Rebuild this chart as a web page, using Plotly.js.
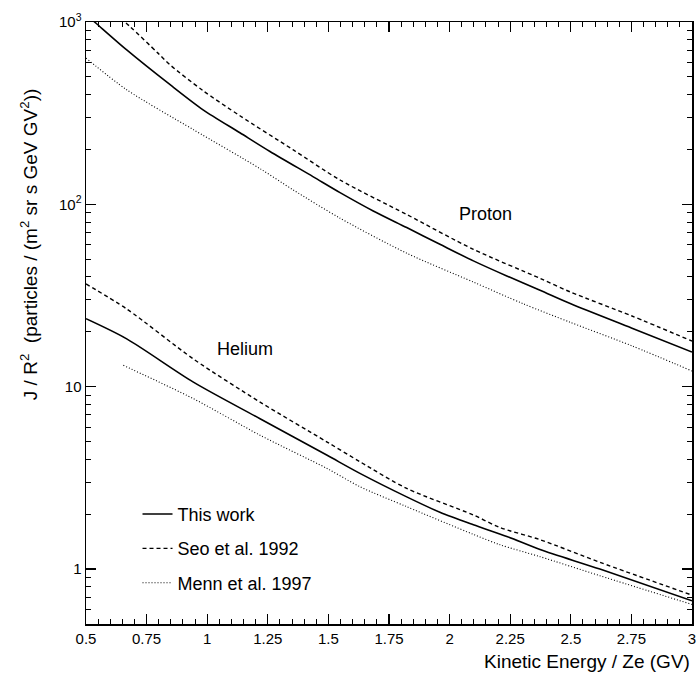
<!DOCTYPE html>
<html>
<head>
<meta charset="utf-8">
<script src="https://cdn.plot.ly/plotly-3.0.1.min.js"></script>
<style>html,body{margin:0;padding:0;background:#fff;}#chart{width:698px;height:677px;}</style>
</head>
<body>
<div id="chart"></div>
<script>
// ---- Data ----
// Proton
const protonThisWorkE = [0.5, 0.545, 0.668, 0.847, 0.983, 1.135, 1.259, 1.436, 1.548, 1.685, 1.823, 1.96, 2.098, 2.236, 2.373, 2.5, 2.75, 3.0];
const protonThisWorkJ = [1100, 975, 703, 453, 330, 247, 195, 142, 116, 92, 74.6, 60.4, 49, 40.5, 33.8, 28.5, 21.0, 15.5];
const protonSeoE = [0.6, 0.682, 0.797, 0.847, 0.983, 1.135, 1.355, 1.548, 1.823, 2.098, 2.373, 2.5, 2.75, 3.0];
const protonSeoJ = [1180, 943, 675, 582, 420, 306, 199, 136, 88, 56.7, 39.3, 33, 24.5, 17.8];
const protonMennE = [0.5, 0.668, 0.943, 1.218, 1.355, 1.548, 1.823, 2.098, 2.304, 2.5, 2.75, 3.0];
const protonMennJ = [634, 425, 257, 157, 120, 84, 54, 37.5, 28.5, 22.5, 16.8, 12.2];
// Helium
const heliumThisWorkE = [0.5, 0.668, 0.943, 1.218, 1.493, 1.63, 1.823, 1.96, 2.098, 2.236, 2.373, 2.62, 3.0];
const heliumThisWorkJ = [23.6, 18.3, 10.6, 6.68, 4.22, 3.35, 2.49, 2.05, 1.75, 1.51, 1.28, 1.0, 0.67];
const heliumSeoE = [0.5, 0.668, 0.943, 1.218, 1.493, 1.63, 1.823, 2.098, 2.208, 2.373, 2.62, 3.0];
const heliumSeoJ = [36.6, 26.7, 14.2, 8.24, 4.99, 3.88, 2.77, 1.98, 1.69, 1.45, 1.09, 0.72];
const heliumMennE = [0.654, 0.943, 1.218, 1.493, 1.63, 1.823, 2.098, 2.208, 2.373, 2.62, 3.0];
const heliumMennJ = [13.1, 8.6, 5.42, 3.57, 2.83, 2.2, 1.55, 1.36, 1.17, 0.92, 0.64];

const legendNames = ["This work", "Seo et al. 1992", "Menn et al. 1997"];
const yTickVals = [1, 10, 100, 1000];
const yTickText = ["1", "10", "10<sup>2</sup>", "10<sup>3</sup>"];
const xTickVals = [0.5, 0.75, 1, 1.25, 1.5, 1.75, 2, 2.25, 2.5, 2.75, 3];
const xTickText = ["0.5", "0.75", "1", "1.25", "1.5", "1.75", "2", "2.25", "2.5", "2.75", "3"];

// minor tick positions
const yMinor = [];
[0.1, 1, 10, 100].forEach(d => { for (let k = 2; k <= 9; k++) { const v = k * d; if (v >= 0.5) yMinor.push(v); } });
const xMinor = [];
for (let i = 0; i <= 50; i++) xMinor.push(0.5 + i * 0.05);

const FONT = "Liberation Sans, Arial, Helvetica, sans-serif";
const styles = [
  {color: "#000", width: 1.6, dash: "solid", shape: "spline", smoothing: 0.8},
  {color: "#000", width: 1.4, dash: "4px,3px", shape: "spline", smoothing: 0.8},
  {color: "#000", width: 1.1, dash: "1px,2px", shape: "spline", smoothing: 0.8}
];

function tr(x, y, idx, show) {
  return {x: x, y: y, type: "scatter", mode: "lines", line: styles[idx],
          name: legendNames[idx], legendgroup: "g" + idx, showlegend: show, hoverinfo: "skip"};
}

const data = [
  tr(protonThisWorkE, protonThisWorkJ, 0, true),
  tr(protonSeoE, protonSeoJ, 1, true),
  tr(protonMennE, protonMennJ, 2, true),
  tr(heliumThisWorkE, heliumThisWorkJ, 0, false),
  tr(heliumSeoE, heliumSeoJ, 1, false),
  tr(heliumMennE, heliumMennJ, 2, false)
];

const layout = {
  width: 698, height: 677,
  margin: {l: 86, r: 6, t: 22, b: 53},
  paper_bgcolor: "#fff", plot_bgcolor: "#fff",
  font: {family: FONT, color: "#000", size: 15},
  showlegend: true,
  legend: {x: 0.085, y: 0.213, xanchor: "left", yanchor: "top", bgcolor: "rgba(0,0,0,0)",
           font: {family: FONT, size: 18, color: "#000"}, traceorder: "grouped", tracegroupgap: 8},
  xaxis: {
    range: [0.5, 3], tickmode: "array", tickvals: xTickVals, ticktext: xTickText,
    ticks: "inside", ticklen: 10, tickwidth: 1.3, tickcolor: "#000",
    showline: true, linecolor: "#000", linewidth: 1.5, mirror: "ticks",
    showgrid: false, zeroline: false,
    tickfont: {family: FONT, size: 15, color: "#000"},
    minor: {tickmode: "array", tickvals: xMinor, ticks: "inside", ticklen: 5, tickwidth: 1, tickcolor: "#000", showgrid: false}
  },
  yaxis: {
    type: "log", range: [Math.log10(0.5), 3], tickmode: "array", tickvals: yTickVals, ticktext: yTickText,
    ticks: "inside", ticklen: 10, tickwidth: 1.3, tickcolor: "#000",
    showline: true, linecolor: "#000", linewidth: 1.5, mirror: "ticks",
    showgrid: false, zeroline: false,
    tickfont: {family: FONT, size: 15, color: "#000"},
    minor: {tickmode: "array", tickvals: yMinor, ticks: "inside", ticklen: 5, tickwidth: 1, tickcolor: "#000", showgrid: false}
  },
  annotations: [
    {text: "Proton", x: 2.15, y: Math.log10(88), xref: "x", yref: "y", showarrow: false,
     font: {family: FONT, size: 18, color: "#000"}},
    {text: "Helium", x: 1.156, y: Math.log10(16.1), xref: "x", yref: "y", showarrow: false,
     font: {family: FONT, size: 18, color: "#000"}},
    {text: "Kinetic Energy / Ze (GV)", x: 1, xref: "paper", xanchor: "right", y: -(661 - 624) / 602, yref: "paper",
     showarrow: false, font: {family: FONT, size: 19, color: "#000"}, yanchor: "middle"},
    {text: "J / R<sup>2</sup>  (particles / (m<sup>2</sup> sr s GeV GV<sup>2</sup>))", textangle: -90,
     x: -0.095, xref: "paper", xanchor: "center", y: 0.63, yref: "paper", yanchor: "middle",
     showarrow: false, font: {family: FONT, size: 19, color: "#000"}}
  ]
};

Plotly.newPlot("chart", data, layout, {staticPlot: true, displayModeBar: false});
</script>
</body>
</html>
